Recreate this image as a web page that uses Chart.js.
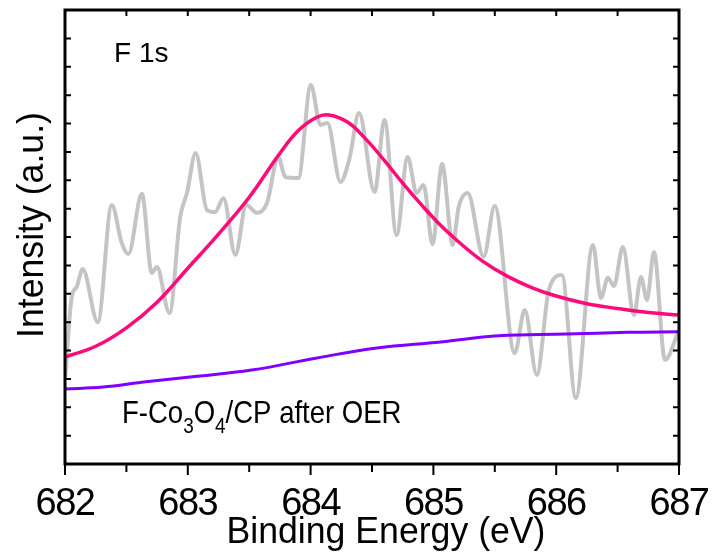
<!DOCTYPE html>
<html>
<head>
<meta charset="utf-8">
<script src="https://cdn.jsdelivr.net/npm/chart.js@4/dist/chart.umd.min.js"></script>
<style>
  html, body { margin: 0; padding: 0; background: #fff; }
  #wrap { width: 713px; height: 559px; }
</style>
</head>
<body>
<div id="wrap"><canvas id="xps" width="713" height="559"></canvas></div>
<script>
// F 1s XPS spectrum: raw counts, fitted peak and background.

const FONT = '"Liberation Sans", Arial, Helvetica, sans-serif';

// raw spectrum (grey)
const RAW_E = [682.00, 682.055, 682.095, 682.144, 682.267, 682.381, 682.462, 682.516, 682.626, 682.707,
  682.748, 682.851, 682.938, 682.993, 683.064, 683.156, 683.223, 683.291, 683.387, 683.476,
  683.564, 683.645, 683.737, 683.794, 683.900, 684.002, 684.080, 684.137, 684.243, 684.316,
  684.394, 684.521, 684.602, 684.700, 684.790, 684.863, 684.920, 684.993, 685.071, 685.157,
  685.206, 685.279, 685.409, 685.499, 685.662, 685.744, 685.842, 685.940, 686.046, 686.160,
  686.299, 686.364, 686.421, 686.470, 686.543, 686.633, 686.690, 686.739, 686.796, 686.886, 687.00];
const RAW_I = [2.96, 5.89, 6.24, 6.87, 5.00, 9.13, 7.79, 7.40, 9.52, 6.73,
  6.94, 5.32, 8.70, 9.55, 10.96, 8.95, 8.88, 9.37, 7.37, 9.13,
  8.85, 9.20, 10.82, 10.11, 10.08, 13.36, 11.95, 12.02, 9.94, 10.75,
  12.37, 9.59, 12.12, 8.07, 10.82, 9.55, 9.83, 7.75, 10.57, 7.72,
  9.06, 9.55, 7.30, 9.09, 3.91, 5.43, 3.14, 6.13, 6.66, 2.33,
  7.72, 5.85, 6.56, 6.27, 7.65, 5.25, 6.59, 5.78, 7.47, 3.67, 4.72];

// fitted peak (pink)
const FIT_E = [682.00, 682.25, 682.50, 682.75, 683.00, 683.25, 683.50, 683.75, 683.90, 684.05,
  684.15, 684.30, 684.45, 684.60, 684.75, 684.90, 685.05, 685.20, 685.40, 685.60,
  685.80, 686.00, 686.25, 686.50, 686.75, 687.00];
const FIT_I = [3.77, 4.15, 4.80, 5.70, 6.90, 8.10, 9.40, 10.95, 11.75, 12.22,
  12.30, 12.05, 11.45, 10.70, 9.90, 9.15, 8.45, 7.85, 7.15, 6.62,
  6.22, 5.92, 5.65, 5.48, 5.34, 5.25];

// background (purple)
const BG_E = [682.00, 682.31, 682.64, 683.02, 683.52, 684.04, 684.54, 685.06, 685.53, 686.08, 686.58, 687.00];
const BG_I = [2.64, 2.71, 2.89, 3.07, 3.31, 3.73, 4.09, 4.30, 4.52, 4.58, 4.64, 4.66];

const X_MIN = 682, X_MAX = 687, X_STEP = 0.5;
const Y_MIN = 0, Y_MAX = 16, Y_STEP = 1;

function pts(xs, ys) {
  return xs.map((x, i) => ({ x: x, y: ys[i] }));
}

// draws a string squeezed horizontally by sx, anchored at (x, y)
function squeezed(ctx, parts, x, y, sx, align) {
  ctx.save();
  let total = 0;
  parts.forEach(p => { ctx.font = p.font; total += ctx.measureText(p.text).width; });
  ctx.translate(x, y);
  ctx.scale(sx, 1);
  let cx = align === 'center' ? -total / 2 : 0;
  ctx.textAlign = 'left';
  ctx.textBaseline = 'alphabetic';
  parts.forEach(p => {
    ctx.font = p.font;
    ctx.fillText(p.text, cx, p.dy || 0);
    cx += ctx.measureText(p.text).width;
  });
  ctx.restore();
}

const framePlugin = {
  id: 'frame',
  beforeDraw(chart) {
    chart.ctx.letterSpacing = '-1.5px';
  },
  afterDatasetsDraw(chart) {
    const ctx = chart.ctx;
    const a = chart.chartArea;
    const xs = chart.scales.x, ys = chart.scales.y;
    ctx.save();
    ctx.strokeStyle = '#000';
    ctx.lineWidth = 3;
    ctx.lineCap = 'butt';
    ctx.strokeRect(a.left, a.top, a.right - a.left, a.bottom - a.top);

    ctx.lineWidth = 2;
    ctx.beginPath();
    xs.ticks.forEach(t => {
      const px = xs.getPixelForValue(t.value);
      const major = Math.abs(t.value - Math.round(t.value)) < 1e-6;
      // bottom: outward
      ctx.moveTo(px, a.bottom);
      ctx.lineTo(px, a.bottom + (major ? 11 : 8));
      // top: inward
      ctx.moveTo(px, a.top);
      ctx.lineTo(px, a.top + 6);
    });
    ys.ticks.forEach(t => {
      const py = ys.getPixelForValue(t.value);
      ctx.moveTo(a.left, py);
      ctx.lineTo(a.left + 6, py);
      ctx.moveTo(a.right, py);
      ctx.lineTo(a.right - 6, py);
    });
    ctx.stroke();
    ctx.restore();
  },
  afterDraw(chart) {
    const ctx = chart.ctx;
    ctx.save();
    ctx.letterSpacing = '0px';
    ctx.fillStyle = '#000';

    squeezed(ctx, [{ text: 'F 1s', font: '28px ' + FONT }], 114, 62, 1, 'left');

    const big = '32px ' + FONT, small = '22px ' + FONT;
    squeezed(ctx, [
      { text: 'F-Co', font: big },
      { text: '3', font: small, dy: 10 },
      { text: 'O', font: big },
      { text: '4', font: small, dy: 10 },
      { text: '/CP after OER', font: big }
    ], 122, 423, 0.86, 'left');

    squeezed(ctx, [{ text: 'Binding Energy (eV)', font: '36px ' + FONT }], 386, 543, 0.99, 'center');

    ctx.save();
    ctx.translate(43, 225);
    ctx.rotate(-Math.PI / 2);
    squeezed(ctx, [{ text: 'Intensity (a.u.)', font: '36px ' + FONT }], 0, 0, 0.99, 'center');
    ctx.restore();

    ctx.restore();
  }
};

new Chart(document.getElementById('xps'), {
  type: 'line',
  data: {
    datasets: [
      {
        label: 'fit',
        data: pts(FIT_E, FIT_I),
        borderColor: '#FF0A78',
        borderWidth: 3.5,
        pointRadius: 0,
        tension: 0.4,
        fill: false
      },
      {
        label: 'background',
        data: pts(BG_E, BG_I),
        borderColor: '#8000FF',
        borderWidth: 3,
        pointRadius: 0,
        tension: 0.4,
        fill: false
      },
      {
        label: 'raw',
        data: pts(RAW_E, RAW_I),
        borderColor: '#C4C4C4',
        borderWidth: 4,
        pointRadius: 0,
        cubicInterpolationMode: 'monotone',
        fill: false
      }
    ]
  },
  options: {
    responsive: false,
    animation: false,
    events: [],
    layout: { padding: { top: 10, right: 34, bottom: 0, left: 0 } },
    plugins: {
      legend: { display: false },
      tooltip: { enabled: false }
    },
    scales: {
      x: {
        type: 'linear',
        min: X_MIN,
        max: X_MAX,
        grid: { display: false },
        border: { display: false },
        ticks: {
          stepSize: X_STEP,
          autoSkip: false,
          maxRotation: 0,
          padding: 10,
          color: '#000',
          font: { family: FONT, size: 38 },
          callback: v => (Math.abs(v - Math.round(v)) < 1e-6 ? String(Math.round(v)) : '')
        },
        afterFit: s => { s.height = 95; s.paddingLeft = 0; s.paddingRight = 0; }
      },
      y: {
        min: Y_MIN,
        max: Y_MAX,
        grid: { display: false },
        border: { display: false },
        ticks: { stepSize: Y_STEP, display: false },
        afterFit: s => { s.width = 65; }
      }
    }
  },
  plugins: [framePlugin]
});
</script>
</body>
</html>
